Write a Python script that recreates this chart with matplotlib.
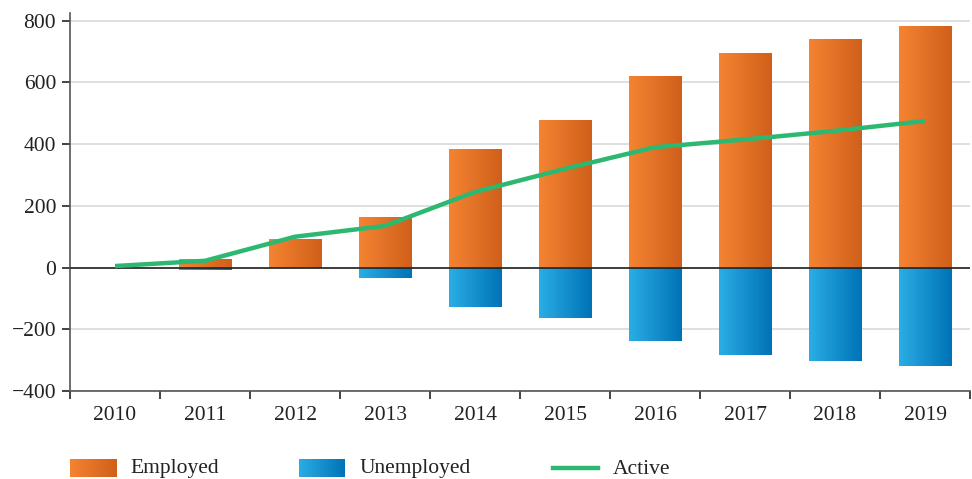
import numpy as np
import matplotlib.pyplot as plt
from matplotlib.colors import LinearSegmentedColormap

years = ['2010', '2011', '2012', '2013', '2014', '2015', '2016', '2017', '2018', '2019']
employed = [0, 28, 94, 163, 384, 478, 621, 696, 741, 783]
unemployed = [0, -8, 0, -33, -127, -163, -237, -283, -302, -318]
active = [5, 22, 100, 135, 245, 320, 390, 415, 443, 475]

orange_cmap = LinearSegmentedColormap.from_list('orange', ['#F48432', '#D05F1A'])
blue_cmap = LinearSegmentedColormap.from_list('blue', ['#2AADE4', '#0073B6'])
green = '#2DB872'

plt.rcParams['font.family'] = ['Liberation Serif', 'DejaVu Serif']
plt.rcParams['font.size'] = 15.5

fig = plt.figure(figsize=(9.72, 4.79), dpi=100)
ax = fig.add_axes([70 / 972, 1 - 391 / 479, 900 / 972, (391 - 13) / 479])

x = np.arange(len(years))
grad = np.linspace(0, 1, 64).reshape(1, -1)


def gradient_bars(values, cmap):
    bars = ax.bar(x, values, width=0.58, color='none', zorder=2)
    for b in bars:
        if b.get_height() == 0:
            continue
        x0, y0 = b.get_x(), b.get_y()
        w, h = b.get_width(), b.get_height()
        im = ax.imshow(grad, cmap=cmap, aspect='auto', zorder=2,
                       extent=(x0, x0 + w, y0, y0 + h))
        im.set_clip_path(b)


gradient_bars(employed, orange_cmap)
gradient_bars(unemployed, blue_cmap)

ax.plot(x, active, color=green, lw=3.2, zorder=4, solid_capstyle='butt')
ax.axhline(0, color='#222222', lw=1.2, zorder=3)

ax.set_xlim(-0.5, len(years) - 0.5)
ax.set_ylim(-400, 825)
ax.set_yticks(range(-400, 801, 200))
ax.set_yticklabels(['\u2212400', '\u2212200', '0', '200', '400', '600', '800'])
ax.yaxis.grid(True, color='#dcdcdc', lw=1.3, zorder=0)
ax.set_axisbelow(True)

ax.set_xticks(x)
ax.set_xticklabels(years)
ax.set_xticks(np.arange(-0.5, len(years)), minor=True)
ax.tick_params(axis='x', which='major', length=0, pad=11)
ax.tick_params(axis='x', which='minor', length=6, width=1.2, color='#555555')
ax.tick_params(axis='y', length=6, width=1.2, color='#555555', pad=4)
ax.tick_params(colors='#222222', which='both', labelcolor='#222222')

for s in ['top', 'right']:
    ax.spines[s].set_visible(False)
for s in ['left', 'bottom']:
    ax.spines[s].set_color('#555555')
    ax.spines[s].set_linewidth(1.2)

# legend drawn by hand so the swatches keep their gradient
def swatch(x0, cmap):
    sax = fig.add_axes([x0 / 972, 1 - 477 / 479, 46 / 972, 18 / 479])
    sax.imshow(grad, cmap=cmap, aspect='auto')
    sax.axis('off')

swatch(70, orange_cmap)
fig.text(130 / 972, 1 - 469 / 479, 'Employed', va='center', ha='left', color='#222222')
swatch(299, blue_cmap)
fig.text(360 / 972, 1 - 469 / 479, 'Unemployed', va='center', ha='left', color='#222222')
fig.lines.append(plt.Line2D([553 / 972, 598 / 972], [1 - 468 / 479, 1 - 468 / 479],
                            color=green, lw=3.2, transform=fig.transFigure))
fig.text(613 / 972, 1 - 469 / 479, 'Active', va='center', ha='left', color='#222222')

fig.savefig('out.png', dpi=100)
